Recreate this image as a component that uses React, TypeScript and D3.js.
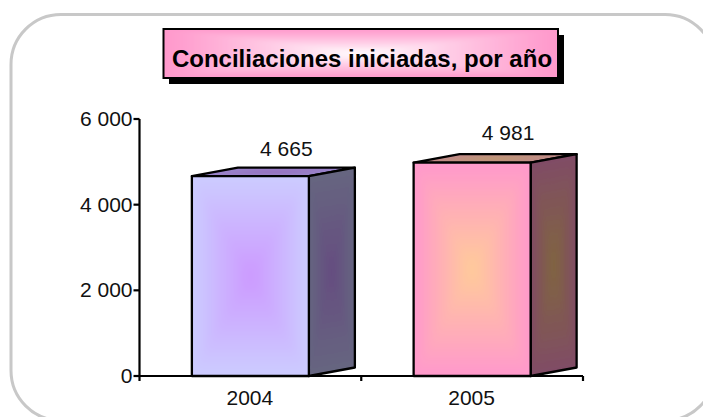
import React from "react";
import * as d3 from "d3";

const years = ["2004", "2005"];
const values = [4665, 4981];
const valueLabels = ["4 665", "4 981"];
const yTicks = [0, 2000, 4000, 6000];
const yTickLabels = ["0", "2 000", "4 000", "6 000"];
const titleText = "Conciliaciones iniciadas, por año";
const frontEdge = ["#CCCCFF", "#FF99CC"];
const frontCentre = ["#CC99FF", "#FFCC99"];
const sideEdge = ["#666680", "#804C66"];
const sideCentre = ["#664C80", "#80663F"];
const topEdge = ["#9A86CC", "#C08A8C"];
const topCentre = ["#9973BF", "#BF9973"];
const labelGap = [20, 22.5];

const W = 703, H = 417;
const x = d3.scaleBand<string>().domain(years).range([139.5, 583]).paddingInner(0).paddingOuter(0);
const y = d3.scaleLinear().domain([0, 6000]).range([376, 119]);
const barW = 117, dx = 46, dy = 8.5;
const fontFamily = "'Liberation Sans', Arial, sans-serif";
const textColor = "#111";

type P = [number, number];
let uid = 0;
function Nested({ pts, edge, centre, steps = 40, power = 1, blur = 0 }: { pts: P[]; edge: string; centre: string; steps?: number; power?: number; blur?: number }) {
  const cx = d3.mean(pts, p => p[0])!;
  const cy = d3.mean(pts, p => p[1])!;
  const col = d3.interpolateRgb(edge, centre);
  const line = d3.line();
  const id = React.useMemo(() => "n" + uid++, []);
  const grow = (k: number) => pts.map(p => [cx + (p[0] - cx) * k, cy + (p[1] - cy) * k] as P);
  return (
    <g clipPath={`url(#c${id})`}>
      <defs>
        <clipPath id={`c${id}`}><path d={line(pts)! + "Z"} /></clipPath>
        <filter id={`f${id}`} filterUnits="userSpaceOnUse" x={0} y={0} width={W} height={H}>
          <feGaussianBlur stdDeviation={blur} />
        </filter>
      </defs>
      <g filter={`url(#f${id})`}>
        <path d={line(grow(1.6))! + "Z"} fill={edge} />
        {d3.range(steps).map(i => {
          const t = i / steps;
          return <path key={i} d={line(grow(1 - t))! + "Z"} fill={col(Math.pow(t, power))} />;
        })}
      </g>
    </g>
  );
}

export default function App() {
  const base = y(0);
  return (
    <svg width={W} height={H} style={{ position: "absolute", left: 0, top: 0, background: "#fff" }} fontFamily={fontFamily}>
      <rect x={11} y={14.5} width={704} height={406} rx={50} ry={50} fill="#fff" stroke="#C8C8C8" strokeWidth={3} />

      <rect x={169} y={35} width={395} height={49} fill="#000" />
      <Nested pts={[[163.5, 29], [558, 29], [558, 78], [163.5, 78]]} edge="#FF99CC" centre="#FFFFFF" power={1.1} blur={2} />
      <rect x={163.5} y={29} width={394.5} height={49} fill="none" stroke="#000" strokeWidth={2} />
      <text x={362} y={66.5} textAnchor="middle" fontSize={24} fontWeight="bold" fill="#000">{titleText}</text>

      {years.map((yr, i) => {
        const cat = x(yr)!;
        const left = cat + (x.bandwidth() - barW) / 2;
        const right = left + barW;
        const top = y(values[i]);
        const front: P[] = [[left, top], [right, top], [right, base], [left, base]];
        const side: P[] = [[right, top], [right + dx, top - dy], [right + dx, base - dy], [right, base]];
        const roof: P[] = [[left, top], [left + dx, top - dy], [right + dx, top - dy], [right, top]];
        const outline = (ps: P[]) => d3.line()(ps)! + "Z";
        return (
          <g key={yr}>
            <Nested pts={roof} edge={topEdge[i]} centre={topCentre[i]} blur={1} />
            <path d={outline(roof)} fill="none" stroke="#000" strokeWidth={2.3} strokeLinejoin="round" />
            <Nested pts={side} edge={sideEdge[i]} centre={sideCentre[i]} power={1} blur={3} />
            <path d={outline(side)} fill="none" stroke="#000" strokeWidth={2.3} strokeLinejoin="round" />
            <Nested pts={front} edge={frontEdge[i]} centre={frontCentre[i]} power={1} blur={4} />
            <path d={outline(front)} fill="none" stroke="#000" strokeWidth={2.3} strokeLinejoin="round" />
            <text x={left + barW / 2 + 36} y={top - labelGap[i]} textAnchor="middle" fontSize={21} fill={textColor}>{valueLabels[i]}</text>
          </g>
        );
      })}

      <g stroke="#000" strokeWidth={2.2} fill="none">
        <path d={`M${x.range()[0]},${y(6000)}V${base}H${x.range()[1]}`} />
        {yTicks.map(t => <path key={t} d={`M${x.range()[0] - 6},${y(t)}H${x.range()[0]}`} />)}
        {[x(years[0])!, x(years[1])!, x.range()[1]].map(v => <path key={v} d={`M${v},${base}v5`} />)}
      </g>
      {yTicks.map((t, i) => (
        <text key={t} x={132.5} y={y(t) + 7} textAnchor="end" fontSize={21} fill={textColor}>{yTickLabels[i]}</text>
      ))}
      {years.map(yr => (
        <text key={yr} x={x(yr)! + x.bandwidth() / 2 - 0.5} y={405} textAnchor="middle" fontSize={21} fill={textColor}>{yr}</text>
      ))}
    </svg>
  );
}
